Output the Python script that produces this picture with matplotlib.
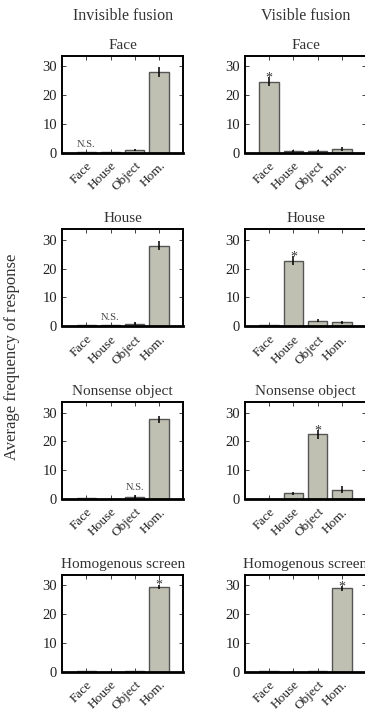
import matplotlib
matplotlib.use('Agg')
from matplotlib import pyplot as plt
import numpy as np

plt.rcParams['font.family'] = ['Liberation Serif', 'DejaVu Serif']
plt.rcParams['text.color'] = '#333333'
plt.rcParams['axes.labelcolor'] = '#333333'
plt.rcParams['xtick.color'] = '#222222'
plt.rcParams['ytick.color'] = '#222222'

categorias = ['Face', 'House', 'Object', 'Hom.']
condiciones = ['Face', 'House', 'Nonsense object', 'Homogenous screen']
columnas = ['Invisible fusion', 'Visible fusion']

# medias y errores por condicion: [invisible, visible]
medias = [
    [[0.2, 0.3, 0.9, 28.1], [24.7, 0.7, 0.7, 1.3]],
    [[0.3, 0.3, 0.9, 28.0], [0.4, 22.7, 2.0, 1.4]],
    [[0.4, 0.1, 0.8, 27.7], [0.1, 2.0, 22.5, 3.3]],
    [[0.3, 0.1, 0.3, 29.5], [0.3, 0.1, 0.3, 29.0]],
]
errores = [
    [[0.1, 0.1, 0.4, 1.7], [1.6, 0.3, 0.3, 0.6]],
    [[0.1, 0.1, 0.5, 1.6], [0.1, 1.6, 0.6, 0.6]],
    [[0.1, 0.1, 0.6, 1.2], [0.1, 0.6, 1.5, 1.2]],
    [[0.1, 0.1, 0.1, 0.8], [0.1, 0.1, 0.1, 0.9]],
]
# marcas encima de barras: (fila, columna, barra, texto)
marcas = [
    (0, 0, 0, 'N.S.'), (0, 1, 0, '*'),
    (1, 0, 1, 'N.S.'), (1, 1, 1, '*'),
    (2, 0, 2, 'N.S.'), (2, 1, 2, '*'),
    (3, 0, 3, '*'), (3, 1, 3, '*'),
]

fig = plt.figure(figsize=(3.65, 7.14), dpi=100)

bottoms = [0.786, 0.543, 0.301, 0.059]
lefts = [0.170, 0.671]
ancho, alto = 0.332, 0.136
x = np.arange(1, 5)

ejes = {}
for i in range(4):
    for j in range(2):
        ax = fig.add_axes([lefts[j], bottoms[i], ancho, alto])
        ejes[(i, j)] = ax
        ax.bar(x, medias[i][j], width=0.8, color='#c0c0b2',
               edgecolor='#555555', linewidth=1.0, zorder=2)
        ax.errorbar(x, medias[i][j], yerr=errores[i][j], fmt='none',
                    ecolor='black', elinewidth=1.1, capsize=0, zorder=3)
        ax.set_xlim(0, 5)
        ax.set_ylim(0, 33.7)
        ax.set_yticks([0, 10, 20, 30])
        ax.set_xticks(x)
        ax.set_xticklabels(categorias, rotation=45, ha='right',
                           rotation_mode='anchor', fontsize=9.5)
        ax.tick_params(axis='y', labelsize=10.5, direction='in',
                       right=True, length=3, width=0.6)
        ax.tick_params(axis='x', direction='in', top=True, length=3,
                       width=0.6, pad=5)
        for lado in ['top', 'right', 'left']:
            ax.spines[lado].set_linewidth(1.4)
        ax.spines['bottom'].set_linewidth(2.0)
        ax.set_title(condiciones[i], fontsize=11, pad=5)

for (i, j, b, texto) in marcas:
    ax = ejes[(i, j)]
    tope = medias[i][j][b] + errores[i][j][b]
    if texto == '*':
        ax.text(x[b], tope - 0.3, texto, ha='center', va='center',
                fontsize=10, color='#333333', zorder=4)
    else:
        ax.text(x[b], tope + 1.0, texto, ha='center', va='bottom',
                fontsize=7.5, color='#444444', zorder=4)

for j in range(2):
    fig.text(lefts[j] + ancho / 2, 0.978, columnas[j], ha='center',
             va='center', fontsize=11.5)

fig.text(0.033, 0.5, 'Average frequency of response', rotation=90,
         ha='center', va='center', fontsize=12)

fig.savefig('out.png', dpi=100)
